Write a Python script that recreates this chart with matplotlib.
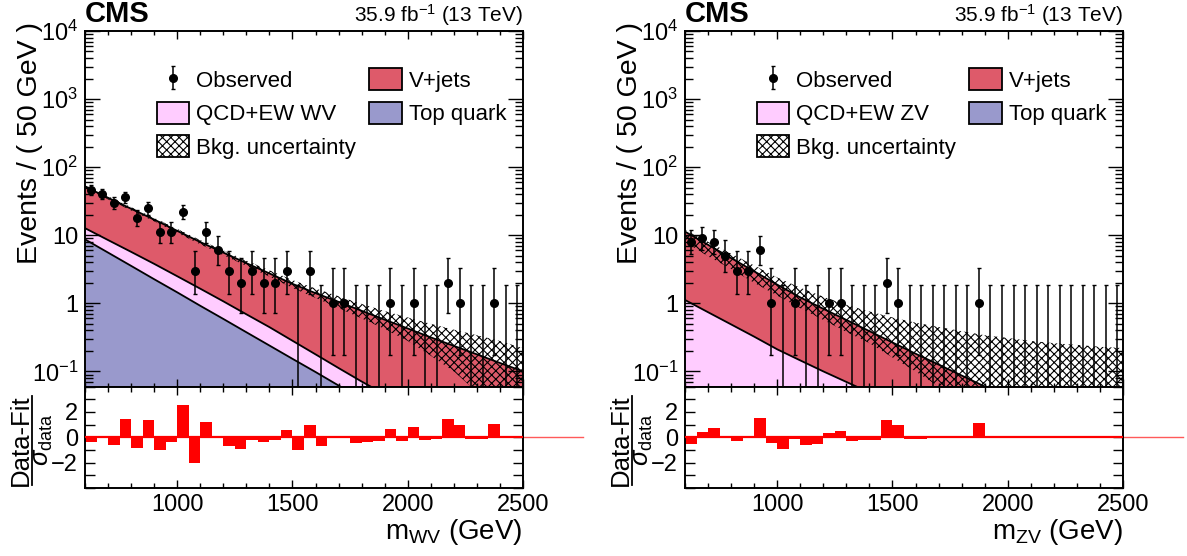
import matplotlib
matplotlib.use("Agg")
import matplotlib.pyplot as plt
import matplotlib.transforms as mtransforms
import numpy as np
from matplotlib.lines import Line2D
from matplotlib.patches import Patch
from matplotlib.ticker import FuncFormatter, LogLocator, MultipleLocator, NullFormatter

plt.rcParams["font.family"] = ["Liberation Sans", "DejaVu Sans"]
plt.rcParams["mathtext.fontset"] = "custom"
plt.rcParams["mathtext.rm"] = "Liberation Sans"
plt.rcParams["mathtext.it"] = "Liberation Sans:italic"
plt.rcParams["mathtext.bf"] = "Liberation Sans:bold"
plt.rcParams["mathtext.sf"] = "Liberation Sans"
plt.rcParams["hatch.linewidth"] = 0.8

# binning of the data histograms (GeV)
BIN_LO, BIN_HI, BIN_W = 600, 2500, 50

# observed counts per 50 GeV bin
WV_OBS = [46, 40, 30, 36, 18, 25, 11, 11, 22, 3, 11, 6, 3, 2, 3, 2, 2, 3, 0, 3,
          0, 1, 1, 0, 0, 0, 1, 0, 1, 0, 0, 2, 1, 0, 0, 1, 0, 0]
ZV_OBS = [8, 9, 8, 5, 3, 3, 6, 1, 0, 1, 0, 0, 1, 1, 0, 0, 0, 2, 1, 0,
          0, 0, 0, 0, 0, 1, 0, 0, 0, 0, 0, 0, 0, 0, 0, 0, 0, 0]

# (data - fit) / sigma_data per bin
WV_PULL = [-0.39, -0.05, -0.63, 1.42, -0.84, 1.37, -1.0, -0.39, 2.53, -2.0,
           1.21, 0.02, -0.71, -0.89, -0.18, -0.39, -0.2, 0.6, -1.0, 0.97,
           -0.71, -0.05, 0.13, -0.47, -0.39, -0.32, 0.68, -0.26, 0.82, -0.21,
           -0.16, 1.42, 1.0, -0.16, -0.16, 1.08, -0.05, -0.05]
ZV_PULL = [-0.53, 0.42, 0.71, 0.1, -0.32, -0.02, 1.53, -0.47, -0.92, -0.1,
           -0.63, -0.5, 0.34, 0.5, -0.29, -0.21, -0.21, 1.37, 0.95, -0.13,
           -0.1, -0.08, -0.05, -0.05, -0.05, 1.16, -0.03, -0.03, -0.03, -0.03,
           -0.03, -0.03, -0.03, -0.03, -0.03, -0.03, -0.03, -0.03]

# fitted background shapes (stack edges), read every 100 GeV
CURVE_MASS = [600, 700, 800, 900, 1000, 1100, 1200, 1300, 1400, 1500,
              1600, 1700, 1800, 1900, 2000, 2100, 2200, 2300, 2400, 2500]
WV_TOP = [8.7, 5.56, 3.55, 2.26, 1.45, 0.92, 0.59, 0.376, 0.24, 0.153,
          0.098, 0.062, 0.040, 0.025, 0.016, 0.010, 0.0065, 0.0042, 0.0027, 0.0017]
WV_TOP_QCD = [12.7, 8.5, 5.7, 3.8, 2.5, 1.64, 1.07, 0.69, 0.447, 0.282,
              0.178, 0.112, 0.071, 0.046, 0.030, 0.019, 0.0123, 0.0079, 0.0051, 0.0033]
WV_TOTAL = [51.9, 35.5, 24.5, 17.0, 11.6, 7.94, 5.56, 3.89, 2.75, 1.93,
            1.41, 1.05, 0.776, 0.575, 0.427, 0.316, 0.237, 0.178, 0.133, 0.1]
WV_UNC_HI = [54.5, 37.4, 25.9, 18.0, 12.4, 8.5, 6.0, 4.25, 3.05, 2.2,
             1.65, 1.27, 0.98, 0.77, 0.62, 0.50, 0.41, 0.34, 0.28, 0.22]
WV_UNC_LO = [49.3, 33.6, 23.1, 16.0, 10.8, 7.35, 5.1, 3.55, 2.47, 1.68,
             1.2, 0.85, 0.6, 0.42, 0.28, 0.17, 0.1, 0.05, 0.02, 0.001]

ZV_QCD = [1.12, 0.74, 0.49, 0.324, 0.211, 0.145, 0.1, 0.07, 0.049, 0.0347,
          0.0245, 0.0174, 0.0123, 0.0087, 0.0063, 0.0046, 0.0033, 0.0024, 0.0017, 0.0013]
ZV_TOTAL = [11.3, 7.24, 4.62, 2.95, 1.88, 1.22, 0.83, 0.57, 0.39, 0.266,
            0.182, 0.126, 0.087, 0.06, 0.043, 0.030, 0.021, 0.015, 0.011, 0.008]
ZV_UNC_HI = [12.0, 8.0, 5.4, 3.6, 2.4, 1.7, 1.25, 0.95, 0.76, 0.62,
             0.52, 0.45, 0.39, 0.34, 0.31, 0.28, 0.26, 0.245, 0.23, 0.22]
ZV_UNC_LO = [8.0, 4.9, 3.2, 2.0, 1.3, 0.85, 0.57, 0.38, 0.26, 0.16,
             0.10, 0.06, 0.03, 0.001, 0.001, 0.001, 0.001, 0.001, 0.001, 0.001]

VJ_COLOR = "#de5a6a"
QCD_COLOR = "#ffccff"
TOP_COLOR = "#9999cc"
FLOOR = 1e-4

W, H = 1187, 556


def px_axes(x0, y0, x1, y1):
    return [x0 / W, 1 - y1 / H, (x1 - x0) / W, (y1 - y0) / H]


def garwood(n):
    n = np.asarray(n, dtype=float)
    hi = n + np.sqrt(n + 0.75) + 1.0
    with np.errstate(divide="ignore", invalid="ignore"):
        lo = n * (1 - 1 / (9 * n) - 1 / (3 * np.sqrt(n))) ** 3
    lo = np.where(n > 0, lo, 0.0)
    return lo, hi


def log_label(v, _):
    e = int(round(np.log10(v)))
    if e == 0:
        return "1"
    if e == 1:
        return "10"
    return r"$10^{%d}$" % e


def style_main(ax):
    ax.set_yscale("log")
    ax.set_xlim(BIN_LO, BIN_HI)
    ax.set_ylim(0.06, 1e4)
    ax.yaxis.set_major_locator(LogLocator(base=10, numticks=20))
    ax.yaxis.set_minor_locator(LogLocator(base=10, subs=np.arange(2, 10) * 1.0, numticks=100))
    ax.yaxis.set_major_formatter(FuncFormatter(log_label))
    ax.yaxis.set_minor_formatter(NullFormatter())
    ax.xaxis.set_major_locator(MultipleLocator(500))
    ax.xaxis.set_minor_locator(MultipleLocator(100))
    ax.tick_params(which="both", direction="in", top=True, right=True, labelbottom=False,
                   labelsize=17, width=1.0)
    ax.tick_params(axis="y", which="major", length=11, pad=5)
    ax.tick_params(axis="y", which="minor", length=5.5)
    ax.tick_params(axis="x", which="major", length=6)
    ax.tick_params(axis="x", which="minor", length=3)
    for s in ax.spines.values():
        s.set_linewidth(1.4)


def style_ratio(ax):
    ax.set_xlim(BIN_LO, BIN_HI)
    ax.set_ylim(-4, 4)
    ax.yaxis.set_minor_locator(MultipleLocator(1))
    ax.set_yticks([-2, 0, 2])
    ax.xaxis.set_major_locator(MultipleLocator(500))
    ax.xaxis.set_minor_locator(MultipleLocator(100))
    ax.tick_params(which="both", direction="in", top=True, right=True, labelsize=17, width=1.0)
    ax.tick_params(axis="y", which="both", length=7, pad=5)
    ax.tick_params(axis="x", which="major", length=6, pad=4)
    ax.tick_params(axis="x", which="minor", length=3.5)
    for s in ax.spines.values():
        s.set_linewidth(1.4)


def draw_panel(fig, x0, obs, pull, layers, total, unc_lo, unc_hi, process, varname):
    x1 = x0 + 438
    ax = fig.add_axes(px_axes(x0, 31, x1, 386.5))
    axr = fig.add_axes(px_axes(x0, 386.5, x1, 488))

    xs = np.array(CURVE_MASS, dtype=float)
    # stacked fitted backgrounds
    lower = np.full(len(xs), FLOOR)
    for vals, color in layers:
        vals = np.array(vals)
        ax.fill_between(xs, lower, vals, color=color, lw=0, zorder=1)
        lower = vals
    ax.fill_between(xs, lower, np.array(total), color=VJ_COLOR, lw=0, zorder=1)
    ax.fill_between(xs, np.array(unc_lo), np.array(unc_hi), facecolor="none",
                    edgecolor="black", hatch="xxxx", lw=0, zorder=2)
    for vals, _ in layers:
        ax.plot(xs, vals, color="black", lw=1.3, zorder=3)
    ax.plot(xs, total, color="black", lw=1.3, zorder=3)

    # observed data
    centers = np.arange(BIN_LO + BIN_W / 2, BIN_HI, BIN_W)
    n = np.array(obs, dtype=float)
    lo, hi = garwood(n)
    y = np.where(n > 0, n, 1e-3)
    yerr = np.vstack([y - np.where(n > 0, lo, 1e-3), hi - y])
    obs_h = ax.errorbar(centers, y, yerr=yerr, fmt="o", color="black", ms=5.5,
                        elinewidth=1.1, capsize=1.5, capthick=1.0, zorder=4)

    handles = [
        obs_h,
        Patch(facecolor=QCD_COLOR, edgecolor="black", lw=1.3),
        Patch(facecolor="white", edgecolor="black", hatch="xxxx", lw=1.3),
        Patch(facecolor=VJ_COLOR, edgecolor="black", lw=1.3),
        Patch(facecolor=TOP_COLOR, edgecolor="black", lw=1.3),
    ]
    labels = ["Observed", "QCD+EW " + process, "Bkg. uncertainty", "V+jets", "Top quark"]
    ax.legend(handles, labels, ncol=2, loc="upper left", bbox_to_anchor=(0.1637, 0.895),
              frameon=False, fontsize=16, borderpad=0, borderaxespad=0,
              handlelength=1.45, handleheight=1.15, handletextpad=0.33,
              labelspacing=0.45, columnspacing=0.6)

    style_main(ax)
    ax.text(0, 1.008, "CMS", transform=ax.transAxes, ha="left", va="bottom",
            fontsize=21, fontweight="bold")
    ax.text(1, 1.008, r"35.9 fb$^{-1}$ (13 TeV)", transform=ax.transAxes,
            ha="right", va="bottom", fontsize=15)

    # pull panel
    axr.bar(centers, pull, width=BIN_W, color="#ff0000", lw=0, zorder=2)
    axr.axhline(0, color="#ff0000", lw=1.6, zorder=3)
    trans = mtransforms.blended_transform_factory(axr.transAxes, axr.transData)
    axr.plot([1, 1.137], [0, 0], color="#ff5a5a", lw=1.0, transform=trans, clip_on=False)
    style_ratio(axr)

    # axis titles
    fig.text((x0 - 55) / W, 1 - 22 / H, "Events / ( 50 GeV )", rotation=90,
             ha="center", va="top", fontsize=20.5)
    fig.text((x0 - 64) / W, 1 - 440 / H, "Data-Fit", rotation=90,
             ha="center", va="center", fontsize=18.5)
    fig.add_artist(Line2D([(x0 - 53) / W] * 2, [1 - 396 / H, 1 - 485 / H],
                          color="black", lw=1.3, transform=fig.transFigure))
    fig.text((x0 - 42) / W, 1 - 440 / H, r"$\sigma_{\mathrm{data}}$", rotation=90,
             ha="center", va="center", fontsize=18.5)
    fig.text(x1 / W, 1 - 532 / H, r"$\mathrm{m}_{\mathrm{%s}}$ (GeV)" % varname,
             ha="right", va="center", fontsize=20)
    return ax, axr


fig = plt.figure(figsize=(W / 100, H / 100), dpi=100)
draw_panel(fig, 85, WV_OBS, WV_PULL,
           [(WV_TOP, TOP_COLOR), (WV_TOP_QCD, QCD_COLOR)],
           WV_TOTAL, WV_UNC_LO, WV_UNC_HI, "WV", "WV")
draw_panel(fig, 685, ZV_OBS, ZV_PULL,
           [(ZV_QCD, QCD_COLOR)],
           ZV_TOTAL, ZV_UNC_LO, ZV_UNC_HI, "ZV", "ZV")

fig.savefig("out.png", dpi=100)
